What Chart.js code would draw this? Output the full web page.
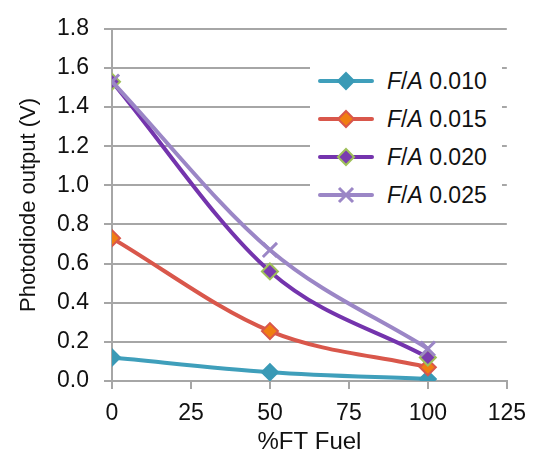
<!DOCTYPE html>
<html>
<head>
<meta charset="utf-8">
<script src="https://cdn.jsdelivr.net/npm/chart.js@4.4.1/dist/chart.umd.min.js"></script>
<style>
  html, body { margin: 0; padding: 0; background: #fff; }
  #wrap { position: relative; width: 537px; height: 461px; }
  #legend {
    position: absolute; left: 310px; top: 62px; width: 192px; height: 152px;
    background: #fff; font-family: "Liberation Sans", Arial, sans-serif; font-size: 23px; color: #111;
  }
  .row { position: absolute; left: 0; height: 30px; display: flex; align-items: center; white-space: nowrap; }
  .row svg { margin-left: 8px; margin-right: 13px; }
</style>
</head>
<body>
<div id="wrap">
  <canvas id="chart" width="537" height="461"></canvas>
  <div id="legend"></div>
</div>
<script>
// données
const fuelPct = [0, 50, 100];
const seriesNames = ['0.010', '0.015', '0.020', '0.025'];
const fa010 = [0.12, 0.045, 0.01];
const fa015 = [0.73, 0.255, 0.07];
const fa020 = [1.53, 0.56, 0.12];
const fa025 = [1.53, 0.67, 0.165];
const yTicks = [0, 0.2, 0.4, 0.6, 0.8, 1.0, 1.2, 1.4, 1.6, 1.8];
const xTicks = [0, 25, 50, 75, 100, 125];

// styles des séries (Excel)
const styles = [
  { line: '#3f9fbb', fill: '#3a9ab6', border: '#3a9ab6', shape: 'rectRot', r: 8 },
  { line: '#d9574b', fill: '#f07e12', border: '#d9574b', shape: 'rectRot', r: 8 },
  { line: '#7434ad', fill: '#7a3cb0', border: '#9fc05a', shape: 'rectRot', r: 8 },
  { line: '#9b86c6', fill: '#9b86c6', border: '#9b86c6', shape: 'crossRot', r: 10 }
];
const allValues = [fa010, fa015, fa020, fa025];

function toPoints(values) {
  return fuelPct.map((x, i) => ({ x: x, y: values[i] }));
}

const datasets = allValues.map((vals, i) => ({
  label: 'F/A ' + seriesNames[i],
  data: toPoints(vals),
  borderColor: styles[i].line,
  borderWidth: 4,
  cubicInterpolationMode: 'monotone',
  pointStyle: styles[i].shape,
  pointRadius: styles[i].r,
  pointBackgroundColor: styles[i].fill,
  pointBorderColor: styles[i].border,
  pointBorderWidth: i === 3 ? 3 : 2,
  order: 4 - i
}));

const family = '"Liberation Sans", Arial, sans-serif';
const gridColor = '#a6a6a6';

new Chart(document.getElementById('chart'), {
  type: 'line',
  data: { datasets: datasets },
  options: {
    responsive: false,
    animation: false,
    layout: { padding: { top: 17, right: 24, left: 0, bottom: 0 } },
    plugins: { legend: { display: false }, tooltip: { enabled: false } },
    scales: {
      x: {
        type: 'linear', min: 0, max: 125,
        afterBuildTicks: s => { s.ticks = xTicks.map(v => ({ value: v })); },
        afterFit: s => { s.height = 80; },
        ticks: { font: { family: family, size: 23 }, color: '#111', padding: 11, maxRotation: 0 },
        grid: { drawOnChartArea: false, color: gridColor, lineWidth: 2, tickLength: 8 },
        border: { color: gridColor, width: 2 },
        title: { display: true, text: '%FT Fuel', font: { family: family, size: 24 }, color: '#111', padding: { top: 6 } }
      },
      y: {
        min: 0, max: 1.8,
        afterBuildTicks: s => { s.ticks = yTicks.map(v => ({ value: v })); },
        afterFit: s => { s.width = 112; },
        ticks: { font: { family: family, size: 23 }, color: '#111', padding: 15, callback: v => v.toFixed(1) },
        grid: { color: gridColor, lineWidth: 2, tickLength: 8 },
        border: { color: gridColor, width: 2 },
        title: { display: true, text: 'Photodiode output (V)', font: { family: family, size: 22 }, color: '#111', padding: { top: 16, bottom: 0 } }
      }
    }
  }
});

// légende dans la zone du graphique
const legend = document.getElementById('legend');
datasets.forEach((ds, i) => {
  const st = styles[i];
  const row = document.createElement('div');
  row.className = 'row';
  row.style.top = (4 + i * 38) + 'px';
  let marker;
  if (st.shape === 'crossRot') {
    marker = `<path d="M21 7 L35 21 M35 7 L21 21" stroke="${st.fill}" stroke-width="3"/>`;
  } else {
    marker = `<path d="M28 6 L36 14 L28 22 L20 14 Z" fill="${st.fill}" stroke="${st.border}" stroke-width="2"/>`;
  }
  row.innerHTML = `<svg width="56" height="28"><line x1="2" y1="14" x2="54" y2="14" stroke="${st.line}" stroke-width="4" stroke-linecap="round"/>${marker}</svg>` +
    `<span><i>F</i>/<i>A</i> ${seriesNames[i]}</span>`;
  legend.appendChild(row);
});
</script>
</body>
</html>
